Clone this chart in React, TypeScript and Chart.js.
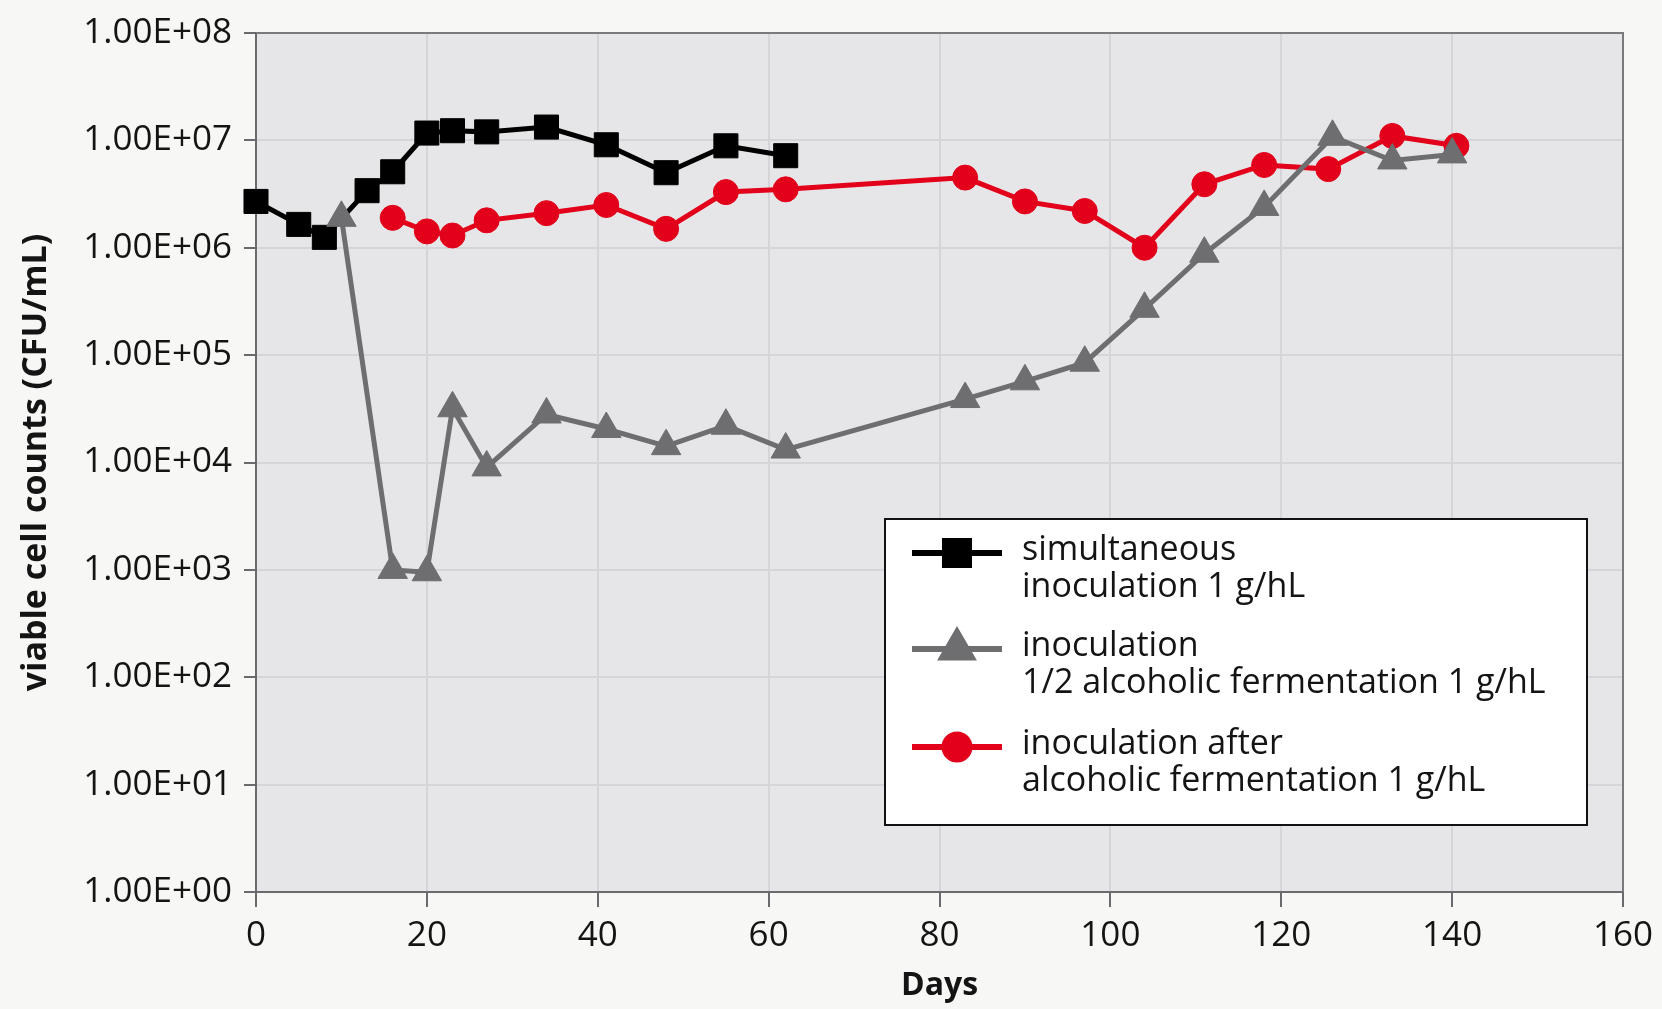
import React, { useEffect, useRef } from "react";
import { Chart, registerables } from "chart.js";
import { drawPoint } from "chart.js/helpers";

Chart.register(...registerables);

// ---- Data ----
const simultaneousDays = [0, 5, 8, 13, 16, 20, 23, 27, 34, 41, 48, 55, 62];
const simultaneousCounts = [2.7e6, 1.65e6, 1.25e6, 3.4e6, 5.1e6, 1.17e7, 1.23e7, 1.2e7, 1.33e7, 9.1e6, 5.0e6, 8.9e6, 7.2e6];

const halfAfDays = [10, 16, 20, 23, 27, 34, 41, 48, 55, 62, 83, 90, 97, 104, 111, 118, 126, 133, 140];
const halfAfCounts = [1.9e6, 1.0e3, 9.5e2, 3.2e4, 9.0e3, 2.8e4, 2.05e4, 1.42e4, 2.2e4, 1.32e4, 3.9e4, 5.7e4, 8.5e4, 2.7e5, 8.8e5, 2.4e6, 1.08e7, 6.5e6, 7.4e6];

const afterAfDays = [16, 20, 23, 27, 34, 41, 48, 55, 62, 83, 90, 97, 104, 111, 118, 125.5, 133, 140.5];
const afterAfCounts = [1.9e6, 1.42e6, 1.3e6, 1.8e6, 2.1e6, 2.5e6, 1.5e6, 3.3e6, 3.5e6, 4.5e6, 2.7e6, 2.2e6, 1.0e6, 3.9e6, 5.9e6, 5.4e6, 1.1e7, 8.9e6];

const seriesLabels = [
  ["simultaneous", "inoculation 1 g/hL"],
  ["inoculation", "1/2 alcoholic fermentation 1 g/hL"],
  ["inoculation after", "alcoholic fermentation 1 g/hL"],
];

const yTickValues = [1, 1e1, 1e2, 1e3, 1e4, 1e5, 1e6, 1e7, 1e8];
const yTickLabels = ["1.00E+00", "1.00E+01", "1.00E+02", "1.00E+03", "1.00E+04", "1.00E+05", "1.00E+06", "1.00E+07", "1.00E+08"];

const xTitle = "Days";
const yTitle = "viable cell counts (CFU/mL)";

const FONT = "'Open Sans', 'Noto Sans', sans-serif";
const PAGE_BG = "#f7f7f5";
const PLOT_BG = "#e6e6e8";

const toPoints = (xs: number[], ys: number[]) => xs.map((x, i) => ({ x, y: ys[i] }));

const backgroundPlugin = {
  id: "bgPlugin",
  beforeDraw(chart: any) {
    const { ctx, chartArea, width, height } = chart;
    ctx.save();
    ctx.fillStyle = PAGE_BG;
    ctx.fillRect(0, 0, width, height);
    ctx.fillStyle = PLOT_BG;
    ctx.fillRect(chartArea.left, chartArea.top, chartArea.right - chartArea.left, chartArea.bottom - chartArea.top);
    ctx.restore();
  },
  beforeDatasetsDraw(chart: any) {
    const { ctx, chartArea } = chart;
    ctx.save();
    ctx.strokeStyle = "#7a7a7e";
    ctx.lineWidth = 2;
    ctx.beginPath();
    ctx.moveTo(chartArea.left, chartArea.top);
    ctx.lineTo(chartArea.right, chartArea.top);
    ctx.lineTo(chartArea.right, chartArea.bottom);
    ctx.stroke();
    ctx.restore();
  },
};

const legendPlugin = {
  id: "boxLegend",
  afterDraw(chart: any) {
    const { ctx } = chart;
    const box = { x: 885, y: 519, w: 702, h: 306 };
    ctx.save();
    ctx.fillStyle = "#ffffff";
    ctx.fillRect(box.x, box.y, box.w, box.h);
    ctx.strokeStyle = "#111111";
    ctx.lineWidth = 2;
    ctx.strokeRect(box.x, box.y, box.w, box.h);
    const entryTops = [550, 646, 744];
    const lineGap = 37;
    chart.data.datasets.forEach((ds: any, i: number) => {
      const y = entryTops[i];
      const my = y + 3;
      ctx.strokeStyle = ds.borderColor;
      ctx.lineWidth = 6;
      ctx.beginPath();
      ctx.moveTo(912, my);
      ctx.lineTo(1002, my);
      ctx.stroke();
      ctx.fillStyle = ds.pointBackgroundColor;
      ctx.strokeStyle = ds.pointBorderColor;
      drawPoint(ctx, { pointStyle: ds.pointStyle, radius: ds.pointRadius, rotation: 0, borderWidth: 1 }, 957, my);
      ctx.fillStyle = "#141414";
      ctx.font = `34px ${FONT}`;
      ctx.textAlign = "left";
      ctx.textBaseline = "middle";
      const lines: string[] = ds.label;
      lines.forEach((t, j) => ctx.fillText(t, 1022, y + j * lineGap));
    });
    ctx.restore();
  },
};

export default function App() {
  const canvasRef = useRef<HTMLCanvasElement | null>(null);

  useEffect(() => {
    const canvas = canvasRef.current;
    if (!canvas) return;
    const chart = new Chart(canvas, {
      type: "line",
      data: {
        datasets: [
          {
            label: seriesLabels[0] as any,
            data: toPoints(simultaneousDays, simultaneousCounts),
            borderColor: "#000000",
            backgroundColor: "#000000",
            pointBackgroundColor: "#000000",
            pointBorderColor: "#000000",
            borderWidth: 5,
            pointStyle: "rect",
            pointRadius: 17,
            pointBorderWidth: 1,
            clip: false,
            order: 2,
          },
          {
            label: seriesLabels[1] as any,
            data: toPoints(halfAfDays, halfAfCounts),
            borderColor: "#6e6e70",
            backgroundColor: "#6e6e70",
            pointBackgroundColor: "#6e6e70",
            pointBorderColor: "#6e6e70",
            borderWidth: 5,
            pointStyle: "triangle",
            pointRadius: 17,
            pointBorderWidth: 1,
            clip: false,
            order: 0,
          },
          {
            label: seriesLabels[2] as any,
            data: toPoints(afterAfDays, afterAfCounts),
            borderColor: "#e2001a",
            backgroundColor: "#e2001a",
            pointBackgroundColor: "#e2001a",
            pointBorderColor: "#e2001a",
            borderWidth: 5,
            pointStyle: "circle",
            pointRadius: 12.5,
            pointBorderWidth: 1,
            clip: false,
            order: 1,
          },
        ],
      },
      options: {
        animation: false,
        responsive: false,
        devicePixelRatio: 1,
        layout: { padding: { top: 31, right: 39, left: 0, bottom: 0 } },
        plugins: {
          legend: { display: false },
          tooltip: { enabled: false },
        },
        scales: {
          x: {
            type: "linear",
            min: 0,
            max: 160,
            ticks: { stepSize: 20, color: "#141414", font: { family: FONT, size: 35 }, padding: 8 },
            grid: { color: "#d5d5d9", lineWidth: 2, tickColor: "#6a6a6e", tickLength: 15, tickWidth: 2 },
            border: { color: "#6a6a6e", width: 2 },
            title: { display: true, text: xTitle, color: "#141414", font: { family: FONT, size: 32, weight: "bold" }, padding: { top: 4, bottom: 4 } },
            afterFit(scale: any) {
              scale.height = 117;
            },
          },
          y: {
            type: "logarithmic",
            min: 1,
            max: 1e8,
            afterBuildTicks(scale: any) {
              scale.ticks = yTickValues.map((v) => ({ value: v }));
            },
            ticks: {
              color: "#141414",
              font: { family: FONT, size: 35 },
              padding: 12,
              autoSkip: false,
              callback: (value: any) => {
                const idx = yTickValues.indexOf(Number(value));
                return idx >= 0 ? yTickLabels[idx] : "";
              },
            },
            grid: { color: "#d5d5d9", lineWidth: 2, tickColor: "#6a6a6e", tickLength: 12, tickWidth: 2 },
            border: { color: "#6a6a6e", width: 2 },
            title: { display: true, text: yTitle, color: "#141414", font: { family: FONT, size: 34, weight: "bold" }, padding: { top: 16, bottom: 16 } },
            afterFit(scale: any) {
              scale.width = 256;
            },
          },
        },
      } as any,
      plugins: [backgroundPlugin, legendPlugin],
    });
    return () => chart.destroy();
  }, []);

  return (
    <div style={{ position: "fixed", left: 0, top: 0, width: 1662, height: 1009, background: PAGE_BG }}>
      <canvas ref={canvasRef} width={1662} height={1009} style={{ display: "block", width: 1662, height: 1009 }} />
    </div>
  );
}
